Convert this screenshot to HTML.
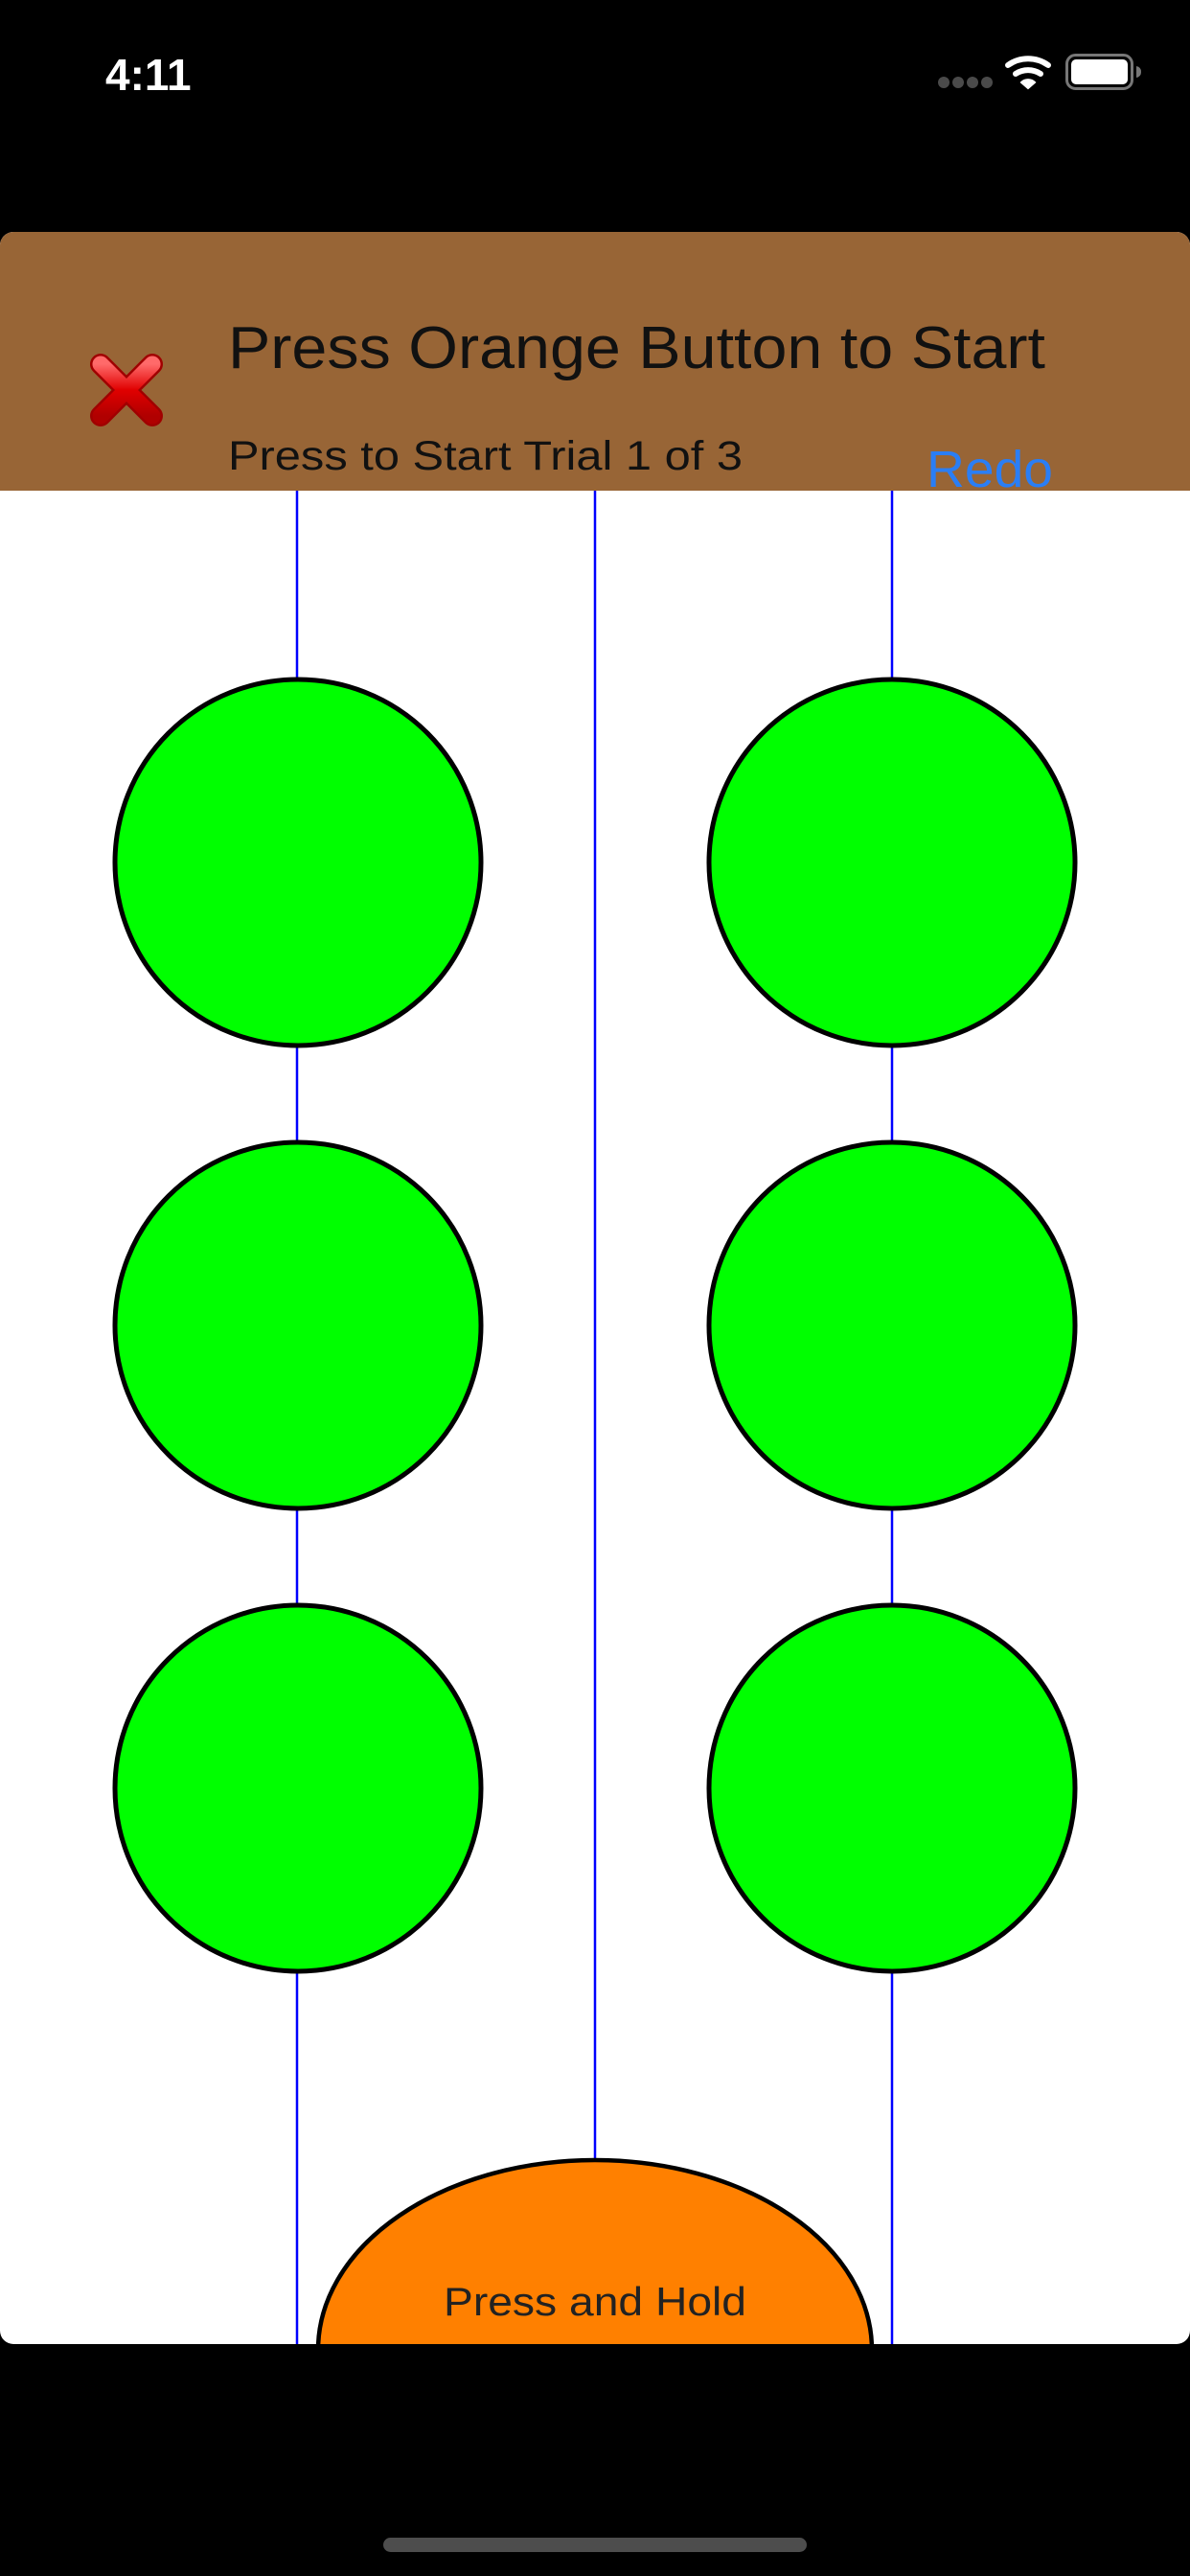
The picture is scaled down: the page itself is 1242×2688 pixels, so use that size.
<!DOCTYPE html>
<html><head><meta charset="utf-8"><style>
html,body{margin:0;padding:0;background:#000;}
body{width:1242px;height:2688px;overflow:hidden;position:relative;font-family:"Liberation Sans",sans-serif;}
svg{position:absolute;left:0;top:0;}
</style></head><body>
<svg width="1242" height="2688" viewBox="0 0 1242 2688">
  <defs>
    <clipPath id="card"><rect x="0" y="242" width="1242" height="2204" rx="14"/></clipPath>
    <linearGradient id="xg" x1="0" y1="0" x2="0" y2="1"><stop offset="0" stop-color="#ff6a6a"/><stop offset="0.5" stop-color="#e00000"/><stop offset="1" stop-color="#b00000"/></linearGradient>
  </defs>
  <rect width="1242" height="2688" fill="#000"/>
  <!-- status bar -->
  <text x="110" y="94" fill="#fff" font-size="46" font-weight="bold">4:11</text>
  <g fill="#4a4a4a">
    <circle cx="985" cy="86" r="6"/><circle cx="1000" cy="86" r="6"/><circle cx="1015" cy="86" r="6"/><circle cx="1030" cy="86" r="6"/>
  </g>
  <g fill="none" stroke="#fff" stroke-width="6" stroke-linecap="round">
    <path d="M1052 68 A36 36 0 0 1 1094 68"/>
    <path d="M1060 77 A24 24 0 0 1 1086 77"/>
    <path d="M1066 86 L1073 92 L1080 86 A10 10 0 0 0 1066 86Z" fill="#fff" stroke-width="2"/>
  </g>
  <g>
    <rect x="1113.5" y="57.5" width="68" height="35" rx="9" fill="none" stroke="#777" stroke-width="3"/>
    <rect x="1118" y="62" width="59" height="26" rx="5" fill="#fff"/>
    <path d="M1186 69 Q1191 70 1191 75 Q1191 80 1186 81Z" fill="#777"/>
  </g>
  <!-- card -->
  <g clip-path="url(#card)">
    <rect x="0" y="242" width="1242" height="2204" fill="#fff"/>
    <g stroke="#0000ff" stroke-width="2.5">
      <line x1="310" y1="500" x2="310" y2="2446"/>
      <line x1="621" y1="500" x2="621" y2="2446"/>
      <line x1="931" y1="500" x2="931" y2="2446"/>
    </g>
    <g fill="#00ff00" stroke="#000" stroke-width="5">
      <circle cx="311" cy="900" r="191"/>
      <circle cx="931" cy="900" r="191"/>
      <circle cx="311" cy="1383" r="191"/>
      <circle cx="931" cy="1383" r="191"/>
      <circle cx="311" cy="1866" r="191"/>
      <circle cx="931" cy="1866" r="191"/>
    </g>
    <g>
      <ellipse cx="621" cy="2452" rx="289" ry="198" fill="#ff8000" stroke="#000" stroke-width="4.5"/>
      <text x="621" y="2416" text-anchor="middle" font-size="42" fill="#222" textLength="316" lengthAdjust="spacingAndGlyphs">Press and Hold</text>
    </g>
    <!-- header -->
    <rect x="0" y="242" width="1242" height="270" fill="#986536"/>
    <text x="238" y="384" font-size="62" fill="#111" textLength="853" lengthAdjust="spacingAndGlyphs">Press Orange Button to Start</text>
    <text x="238" y="490" font-size="43" fill="#111" textLength="537" lengthAdjust="spacingAndGlyphs">Press to Start Trial 1 of 3</text>
    <text x="967" y="508" font-size="54" fill="#2a7ef5" textLength="132" lengthAdjust="spacingAndGlyphs">Redo</text>
    <g transform="translate(132 407)">
      <g stroke="#a00000" stroke-width="22" stroke-linecap="round">
        <line x1="-27" y1="-27" x2="27" y2="27"/><line x1="27" y1="-27" x2="-27" y2="27"/>
      </g>
      <g stroke="url(#xg)" stroke-width="17" stroke-linecap="round">
        <line x1="-27" y1="-27" x2="27" y2="27"/><line x1="27" y1="-27" x2="-27" y2="27"/>
      </g>
    </g>
  </g>
  <rect x="400" y="2648" width="442" height="15" rx="7.5" fill="#4d4d4d"/>
</svg>
</body></html>
